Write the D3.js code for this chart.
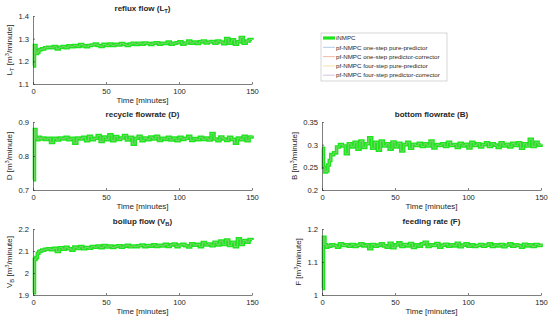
<!DOCTYPE html>
<html>
<head>
<meta charset="utf-8">
<script src="https://cdn.jsdelivr.net/npm/d3@7"></script>
<style>
  body { margin: 0; background: #fff; }
  text { font-family: "Liberation Sans", Arial, sans-serif; fill: #262626; }
</style>
</head>
<body>
<svg id="chart" width="550" height="321"></svg>
<script>
// time grid [minutes]
const time = [0,1,2,3,4,5,6,8,10,12,
  14,16,18,20,22,24,26,28,30,32,
  34,36,38,40,42,44,46,48,50,52,
  54,56,58,60,62,64,66,68,70,72,
  74,76,78,80,82,84,86,88,90,92,
  94,96,98,100,102,104,106,108,110,112,
  114,116,118,120,122,124,126,128,130,132,
  134,136,138,140,142,144,146,148,150]

const refluxLT = [1.18,1.27,1.235,1.24,1.25,1.252,1.255,1.26,1.262,1.26,
  1.265,1.255,1.262,1.265,1.26,1.268,1.265,1.27,1.266,1.274,
  1.268,1.265,1.27,1.272,1.276,1.27,1.266,1.275,1.27,1.276,
  1.27,1.275,1.272,1.279,1.274,1.27,1.276,1.28,1.275,1.28,
  1.276,1.281,1.279,1.275,1.28,1.282,1.276,1.28,1.279,1.285,
  1.276,1.28,1.282,1.286,1.276,1.281,1.289,1.28,1.285,1.279,
  1.286,1.29,1.281,1.285,1.287,1.28,1.29,1.285,1.278,1.3,
  1.28,1.295,1.276,1.286,1.305,1.28,1.29,1.296,1.295]

const recycleD = [0.73,0.878,0.852,0.848,0.855,0.85,0.853,0.849,0.852,0.84,
  0.852,0.847,0.853,0.85,0.855,0.848,0.852,0.838,0.853,0.85,
  0.855,0.845,0.858,0.848,0.852,0.86,0.843,0.856,0.848,0.862,
  0.845,0.857,0.849,0.853,0.86,0.847,0.855,0.835,0.852,0.858,
  0.845,0.853,0.848,0.856,0.85,0.858,0.846,0.852,0.849,0.855,
  0.847,0.853,0.845,0.855,0.849,0.852,0.858,0.846,0.851,0.848,
  0.855,0.849,0.853,0.847,0.866,0.85,0.845,0.856,0.85,0.846,
  0.855,0.849,0.838,0.853,0.848,0.858,0.845,0.856,0.86]

const bottomB = [0.292,0.25,0.24,0.242,0.255,0.265,0.278,0.282,0.295,0.3,
  0.297,0.28,0.302,0.295,0.305,0.29,0.308,0.294,0.302,0.315,
  0.292,0.305,0.288,0.308,0.297,0.302,0.29,0.306,0.295,0.303,
  0.286,0.3,0.305,0.292,0.301,0.298,0.303,0.296,0.302,0.297,
  0.308,0.293,0.3,0.298,0.302,0.296,0.305,0.298,0.3,0.294,
  0.303,0.297,0.301,0.293,0.305,0.298,0.302,0.295,0.3,0.304,
  0.296,0.302,0.299,0.294,0.304,0.297,0.301,0.295,0.303,0.298,
  0.304,0.292,0.302,0.297,0.312,0.296,0.305,0.299,0.301]

const boilupVB = [1.91,2.062,2.07,2.09,2.098,2.1,2.104,2.108,2.11,2.106,
  2.112,2.098,2.115,2.108,2.117,2.11,2.104,2.118,2.112,2.12,
  2.11,2.116,2.113,2.12,2.117,2.122,2.115,2.125,2.118,2.122,
  2.116,2.121,2.124,2.117,2.122,2.126,2.119,2.123,2.12,2.124,
  2.127,2.12,2.125,2.122,2.128,2.121,2.126,2.123,2.13,2.121,
  2.128,2.132,2.12,2.127,2.13,2.124,2.118,2.133,2.126,2.13,
  2.12,2.138,2.127,2.132,2.124,2.14,2.128,2.145,2.13,2.15,
  2.125,2.14,2.12,2.155,2.13,2.148,2.14,2.152,2.15]

const feedF = [1.02,1.175,1.152,1.145,1.15,1.148,1.152,1.15,1.145,1.155,
  1.15,1.152,1.148,1.153,1.147,1.151,1.155,1.149,1.152,1.14,
  1.153,1.148,1.151,1.155,1.149,1.145,1.157,1.143,1.152,1.158,
  1.147,1.153,1.149,1.156,1.144,1.152,1.148,1.155,1.16,1.147,
  1.152,1.15,1.156,1.145,1.151,1.154,1.148,1.152,1.149,1.157,
  1.146,1.151,1.155,1.148,1.152,1.147,1.15,1.153,1.148,1.151,
  1.155,1.147,1.152,1.149,1.153,1.146,1.151,1.155,1.148,1.152,
  1.15,1.145,1.154,1.149,1.152,1.147,1.153,1.15,1.156]

const seriesNames = ["iNMPC", "pf-NMPC one-step pure-predictor", "pf-NMPC one-step predictor-corrector",
  "pf-NMPC four-step pure-predictor", "pf-NMPC four-step predictor-corrector"]
const seriesColors = ["#1ee61e", "#a6c6e5", "#f0b49a", "#f6dca3", "#d6bcdb"]
const xTicks = [0, 50, 100, 150]

let svg = d3.select("#chart")

// panel layout
let panels = [
  {title: [["reflux flow (L"], ["T", "sub"], [")"]], ylab: [["L"], ["T", "sub"], [" [m"], ["3", "sup"], ["/minute]"]],
   y: refluxLT, dom: [1.1, 1.4], ticks: [1.1, 1.2, 1.3, 1.4], x0: 33, x1: 252, y0: 16, y1: 84, lab: 21},
  {title: [["recycle flowrate (D)"]], ylab: [["D [m"], ["3", "sup"], ["/minute]"]],
   y: recycleD, dom: [0.7, 0.9], ticks: [0.7, 0.8, 0.9], x0: 33, x1: 252, y0: 122, y1: 190, lab: 21},
  {title: [["bottom flowrate (B)"]], ylab: [["B [m"], ["3", "sup"], ["/minute]"]],
   y: bottomB, dom: [0.2, 0.35], ticks: [0.2, 0.25, 0.3, 0.35], x0: 322, x1: 541, y0: 122, y1: 190, lab: 25},
  {title: [["boilup flow (V"], ["B", "sub"], [")"]], ylab: [["V"], ["B", "sub"], [" [m"], ["3", "sup"], ["/minute]"]],
   y: boilupVB, dom: [1.9, 2.2], ticks: [1.9, 2, 2.1, 2.2], x0: 33, x1: 252, y0: 229, y1: 295, lab: 21},
  {title: [["feeding rate (F)"]], ylab: [["F [m"], ["3", "sup"], ["/minute]"]],
   y: feedF, dom: [1, 1.2], ticks: [1, 1.1, 1.2], x0: 322, x1: 541, y0: 229, y1: 295, lab: 21}
]

function richText(sel, parts, size) {
  let shift = 0
  parts.forEach(function (p) {
    let want = p[1] == "sub" ? size * 0.3 : (p[1] == "sup" ? -size * 0.38 : 0)
    let ts = sel.append("tspan").text(p[0]).attr("dy", want - shift)
    if (p[1]) ts.style("font-size", (size * 0.72) + "px")
    shift = want
  })
}

panels.forEach(function (p) {
  let x = d3.scaleLinear().domain([0, 150]).range([p.x0, p.x1])
  let y = d3.scaleLinear().domain(p.dom).range([p.y1, p.y0])
  let g = svg.append("g")

  let line = d3.line()
    .x((d, i) => x(time[i]))
    .y(d => y(d))
    .curve(d3.curveStepAfter)

  // iNMPC thick, pf-NMPC variants thin on top (they coincide)
  g.append("path").attr("d", line(p.y)).attr("fill", "none")
    .attr("stroke", seriesColors[0]).attr("stroke-width", 3.6)
  seriesColors.slice(1).forEach(function (c) {
    g.append("path").attr("d", line(p.y)).attr("fill", "none")
      .attr("stroke", c).attr("stroke-width", 0.5).attr("stroke-opacity", 0.3)
  })

  g.append("g").attr("transform", "translate(0," + p.y1 + ")")
    .call(d3.axisBottom(x).tickValues(xTicks).tickSizeInner(-2).tickSizeOuter(0).tickPadding(5))
  g.append("g").attr("transform", "translate(" + p.x0 + ",0)")
    .call(d3.axisLeft(y).tickValues(p.ticks).tickFormat(d3.format("")).tickSizeInner(-2).tickSizeOuter(0).tickPadding(4))
  g.selectAll(".domain, .tick line").attr("stroke", "#262626").attr("stroke-width", 0.6)
  g.selectAll(".tick text").style("font-size", "7.6px").attr("fill", "#262626")
    .style("font-family", "'Liberation Sans', Arial, sans-serif")

  let cx = (p.x0 + p.x1) / 2
  let t = g.append("text").attr("x", cx).attr("y", p.y0 - 5)
    .attr("text-anchor", "middle").style("font-weight", "bold").style("font-size", "8px")
  richText(t, p.title, 8)

  g.append("text").attr("x", cx).attr("y", p.y1 + 19).attr("text-anchor", "middle")
    .style("font-size", "8px").text("Time [minutes]")

  let yl = g.append("text")
    .attr("transform", "translate(" + (p.x0 - p.lab) + "," + ((p.y0 + p.y1) / 2) + ") rotate(-90)")
    .attr("text-anchor", "middle").style("font-size", "8px")
  richText(yl, p.ylab, 8)
})

// legend
let legend = svg.append("g").attr("transform", "translate(321,33)")
legend.append("rect").attr("width", 126).attr("height", 48)
  .attr("fill", "#fff").attr("stroke", "#bdbdbd").attr("stroke-width", 0.6)
seriesNames.forEach(function (name, i) {
  let ly = 5 + i * 9.3
  legend.append("line").attr("x1", 2).attr("x2", 14).attr("y1", ly).attr("y2", ly)
    .attr("stroke", seriesColors[i]).attr("stroke-width", i == 0 ? 3.2 : 0.9)
  legend.append("text").attr("x", 15).attr("y", ly + 2.2)
    .style("font-size", "6.2px").text(name)
})
</script>
</body>
</html>
